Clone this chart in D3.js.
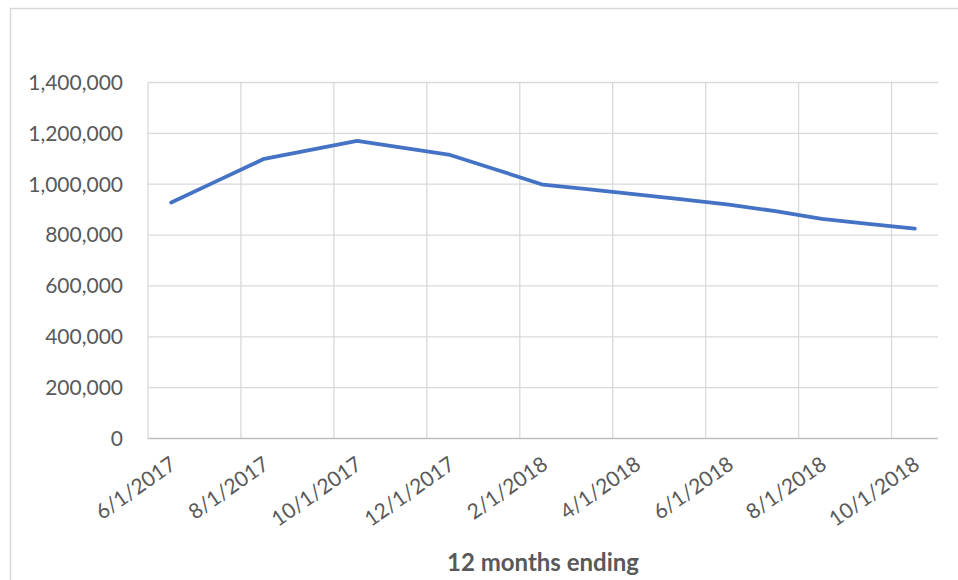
<!DOCTYPE html>
<html>
<head>
<meta charset="utf-8">
<script src="https://cdn.jsdelivr.net/npm/d3@7"></script>
<style>
  body { margin: 0; background: #fff; }
  svg { display: block; }
  text { font-family: Lato, "Open Sans", sans-serif; fill: #595959; }
</style>
</head>
<body>
<div class="linechart"></div>
<script>
// monthly periods ("12 months ending")
const months = ['6/1/2017', '7/1/2017', '8/1/2017', '9/1/2017', '10/1/2017', '11/1/2017',
                '12/1/2017', '1/1/2018', '2/1/2018', '3/1/2018', '4/1/2018', '5/1/2018',
                '6/1/2018', '7/1/2018', '8/1/2018', '9/1/2018', '10/1/2018'];
const values = [928000, 1014000, 1100000, 1135000, 1170000, 1143000,
                1115000, 1057000, 998000, 980000, 960000, 940000,
                920000, 894000, 864000, 844000, 825000];
const xTickLabels = ['6/1/2017', '8/1/2017', '10/1/2017', '12/1/2017', '2/1/2018',
                     '4/1/2018', '6/1/2018', '8/1/2018', '10/1/2018'];
const yTicks = [0, 200000, 400000, 600000, 800000, 1000000, 1200000, 1400000];
const xTitle = '12 months ending';

const W = 958, H = 580;
const margin = { t: 82.5, r: 20, b: 141.5, l: 148 };

const svg = d3.select('.linechart')
  .append('svg')
    .attr('width', W)
    .attr('height', H);

// chart frame
svg.append('rect')
  .attr('x', 10.5).attr('y', 8.5)
  .attr('width', 1000).attr('height', 700)
  .attr('fill', 'none')
  .attr('stroke', '#d9d9d9')
  .attr('stroke-width', 1.5);

const x = d3.scaleBand()
  .domain(months)
  .range([margin.l, W - margin.r])
  .paddingInner(0).paddingOuter(0);

const y = d3.scaleLinear()
  .domain([0, 1400000])
  .range([H - margin.b, margin.t]);

const g = svg.append('g');

// horizontal gridlines
g.selectAll('.hgrid')
  .data(yTicks.filter(d => d > 0))
  .join('line')
    .attr('x1', margin.l).attr('x2', W - margin.r)
    .attr('y1', d => y(d)).attr('y2', d => y(d))
    .attr('stroke', '#d9d9d9').attr('stroke-width', 1.3);

// vertical gridlines between every second month
g.selectAll('.vgrid')
  .data(xTickLabels)
  .join('line')
    .attr('x1', d => x(d)).attr('x2', d => x(d))
    .attr('y1', y(1400000)).attr('y2', y(0))
    .attr('stroke', '#d9d9d9').attr('stroke-width', 1.3);

// x axis line
g.append('line')
  .attr('x1', margin.l).attr('x2', W - margin.r)
  .attr('y1', y(0)).attr('y2', y(0))
  .attr('stroke', '#bfbfbf').attr('stroke-width', 1.3);

// y axis labels
const fmt = d3.format(',');
g.selectAll('.ylab')
  .data(yTicks)
  .join('text')
    .attr('x', 123)
    .attr('y', d => y(d))
    .attr('dy', '0.35em')
    .attr('text-anchor', 'end')
    .style('font-size', '21px')
    .text(d => fmt(d));

// x axis labels, rotated
g.selectAll('.xlab')
  .data(xTickLabels)
  .join('text')
    .attr('text-anchor', 'end')
    .attr('dy', '0.35em')
    .attr('transform', d => 'translate(' + (x(d) + x.bandwidth() / 2 + 2) + ',' + (y(0) + 23) + ') rotate(-35)')
    .style('font-size', '21px')
    .text(d => d);

// axis title
svg.append('text')
  .attr('x', (margin.l + W - margin.r) / 2)
  .attr('y', 571)
  .attr('text-anchor', 'middle')
  .style('font-size', '24px')
  .style('font-weight', 'bold')
  .text(xTitle);

// the series line
svg.append('path')
  .datum(values)
  .attr('fill', 'none')
  .attr('stroke', '#4472c4')
  .attr('stroke-width', 3.8)
  .attr('stroke-linejoin', 'round')
  .attr('stroke-linecap', 'round')
  .attr('d', d3.line()
    .x((d, i) => x(months[i]) + x.bandwidth() / 2)
    .y(d => y(d)));
</script>
</body>
</html>
